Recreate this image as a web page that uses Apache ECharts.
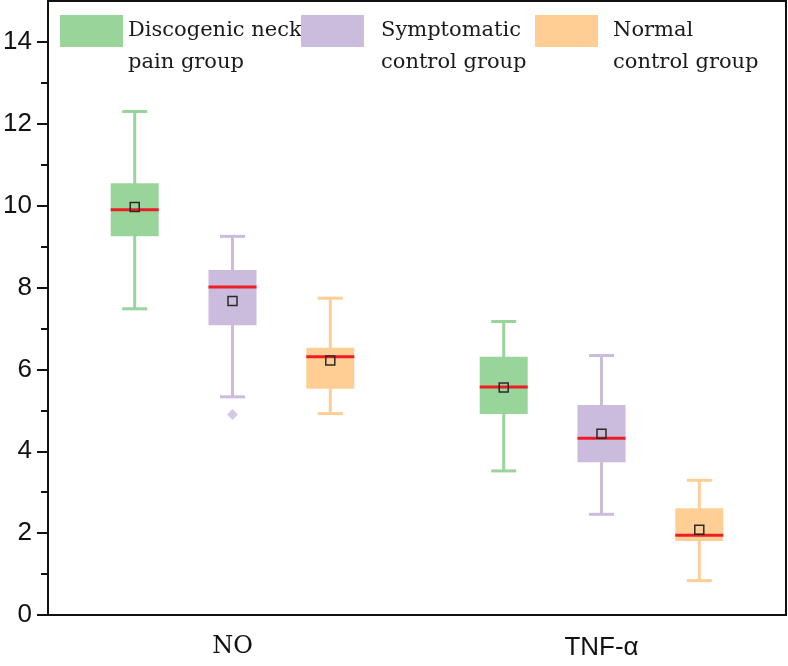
<!DOCTYPE html>
<html>
<head>
<meta charset="utf-8">
<script src="https://cdn.jsdelivr.net/npm/echarts@6/dist/echarts.min.js"></script>
<style>
  html, body { margin: 0; padding: 0; background: #fff; }
  #chart { width: 788px; height: 666px; }
</style>
</head>
<body>
<div id="chart"></div>
<script>
// categories and groups
var categories = ['NO', 'TNF-α'];
var groupNames = ['Discogenic neck\npain group', 'Symptomatic\ncontrol group', 'Normal\ncontrol group'];
var groupColors = ['#99D49A', '#CBBCDE', '#FFCE94'];

// five-number summaries per category: [min, Q1, median, Q3, max]
var discogenicBox = [[7.48, 9.25, 9.90, 10.55, 12.30], [3.52, 4.91, 5.57, 6.31, 7.17]];
var symptomaticBox = [[5.33, 7.08, 8.01, 8.43, 9.25], [2.46, 3.73, 4.32, 5.13, 6.34]];
var normalBox = [[4.92, 5.53, 6.31, 6.53, 7.74], [0.84, 1.81, 1.95, 2.61, 3.29]];

// means per category
var discogenicMean = [9.97, 5.56];
var symptomaticMean = [7.67, 4.43];
var normalMean = [6.22, 2.08];

// outliers: [categoryIndex, value]
var symptomaticOutliers = [[0, 4.90]];

// y axis ticks
var yMajorTicks = [0, 2, 4, 6, 8, 10, 12, 14];
var yMinorTicks = [1, 3, 5, 7, 9, 11, 13];

var boxes = [discogenicBox, symptomaticBox, normalBox];
var means = [discogenicMean, symptomaticMean, normalMean];
var groupOffset = [-0.265, 0, 0.265];

function renderBox(params, api) {
  var x = api.value(0);
  var color = api.visual('color');
  var pMin = api.coord([x, api.value(1)]);
  var pQ1 = api.coord([x, api.value(2)]);
  var pMed = api.coord([x, api.value(3)]);
  var pQ3 = api.coord([x, api.value(4)]);
  var pMax = api.coord([x, api.value(5)]);
  var pMean = api.coord([x, api.value(6)]);
  var cx = pMed[0];
  var halfBox = 24, halfCap = 12.5;
  var lineStyle = { stroke: color, lineWidth: 3 };
  return {
    type: 'group',
    children: [
      { type: 'line', shape: { x1: cx, y1: pMax[1], x2: cx, y2: pMin[1] }, style: lineStyle },
      { type: 'line', shape: { x1: cx - halfCap, y1: pMax[1], x2: cx + halfCap, y2: pMax[1] }, style: lineStyle },
      { type: 'line', shape: { x1: cx - halfCap, y1: pMin[1], x2: cx + halfCap, y2: pMin[1] }, style: lineStyle },
      { type: 'rect', shape: { x: cx - halfBox, y: pQ3[1], width: halfBox * 2, height: pQ1[1] - pQ3[1] },
        style: { fill: color } },
      { type: 'line', shape: { x1: cx - halfBox, y1: pMed[1], x2: cx + halfBox, y2: pMed[1] },
        style: { stroke: '#EE1C25', lineWidth: 3 } },
      { type: 'rect', shape: { x: pMean[0] - 4.5, y: pMean[1] - 4.5, width: 9, height: 9 },
        style: { fill: 'none', stroke: '#2a2a2a', lineWidth: 1.5 } }
    ]
  };
}

var series = groupNames.map(function (name, g) {
  var data = categories.map(function (c, i) {
    return [i + 0.5 + groupOffset[g]].concat(boxes[g][i]).concat([means[g][i]]);
  });
  return {
    name: name,
    type: 'custom',
    xAxisIndex: 1,
    yAxisIndex: 0,
    itemStyle: { color: groupColors[g] },
    renderItem: renderBox,
    data: data,
    z: 3
  };
});

series.push({
  type: 'scatter',
  xAxisIndex: 1,
  yAxisIndex: 0,
  symbol: 'diamond',
  symbolSize: 11,
  itemStyle: { color: groupColors[1] },
  data: symptomaticOutliers.map(function (o) { return [o[0] + 0.5 + groupOffset[1], o[1]]; }),
  z: 3
});

var legendLeft = [60, 301, 535];
var legendTextPad = [0, 12, 10];
var legends = groupNames.map(function (name, g) {
  return {
    data: [name],
    left: legendLeft[g],
    top: -17,
    padding: 0,
    itemWidth: 63,
    itemHeight: 32,
    icon: 'rect',
    selectedMode: false,
    // blank first line pushes the two text lines down to start at the swatch
    formatter: function (n) { return '\n' + n; },
    textStyle: {
      fontFamily: 'DejaVu Serif',
      fontSize: 21,
      lineHeight: 32,
      color: '#1a1a1a',
      padding: [0, 0, 0, legendTextPad[g]]
    }
  };
});

var chart = echarts.init(document.getElementById('chart'), null, { renderer: 'canvas' });
chart.setOption({
  animation: false,
  backgroundColor: '#fff',
  legend: legends,
  grid: {
    left: 48, right: 2, top: 1, bottom: 51,
    show: true, borderColor: '#111', borderWidth: 2,
    outerBoundsMode: 'none'
  },
  xAxis: [{
    type: 'category',
    data: categories,
    boundaryGap: true,
    axisLine: { lineStyle: { color: '#111', width: 2 } },
    axisTick: { alignWithLabel: true, length: 11, lineStyle: { color: '#111', width: 2 } },
    axisLabel: {
      margin: 20,
      formatter: function (v) { return v === 'NO' ? '{s|' + v + '}' : '{a|' + v + '}'; },
      rich: {
        s: { fontFamily: 'DejaVu Serif', fontSize: 24, color: '#111' },
        a: { fontFamily: 'Liberation Sans', fontSize: 26, color: '#111' }
      }
    },
    splitLine: { show: false }
  }, {
    type: 'value',
    min: 0,
    max: 2,
    show: false
  }],
  yAxis: [{
    type: 'value',
    min: 0,
    max: 15,
    interval: 1,
    axisLine: { show: true, lineStyle: { color: '#111', width: 2 } },
    axisTick: { show: true, customValues: yMajorTicks, length: 11, lineStyle: { color: '#111', width: 2 } },
    axisLabel: {
      customValues: yMajorTicks,
      margin: 16,
      fontFamily: 'Liberation Sans',
      fontSize: 26,
      color: '#111'
    },
    splitLine: { show: false }
  }, {
    type: 'value',
    min: 0,
    max: 15,
    interval: 1,
    position: 'left',
    axisLine: { show: false },
    axisTick: { show: true, customValues: yMinorTicks, length: 7, lineStyle: { color: '#111', width: 2 } },
    axisLabel: { show: false },
    splitLine: { show: false }
  }],
  series: series
});
</script>
</body>
</html>
